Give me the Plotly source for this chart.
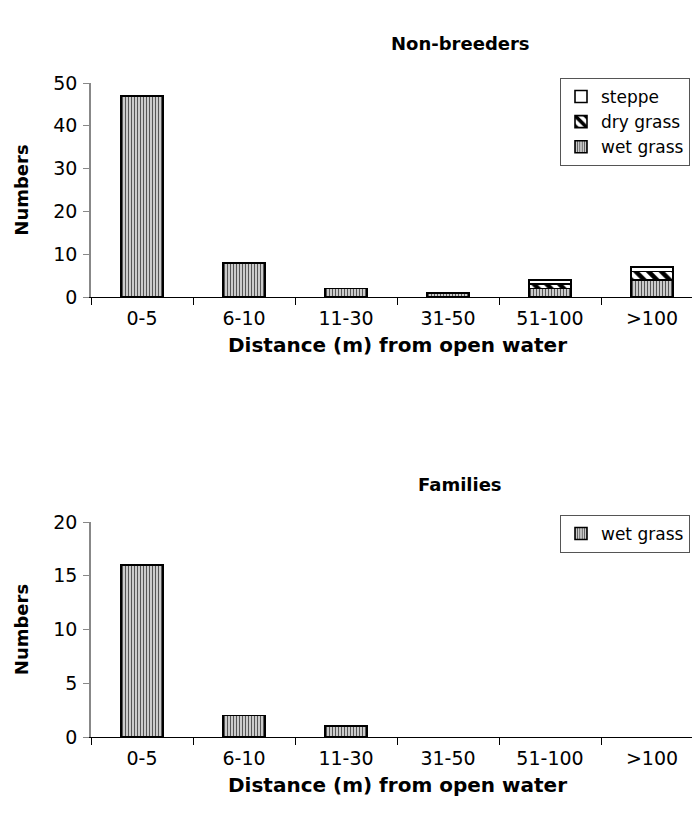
import plotly.graph_objects as go

categories = ["0-5", "6-10", "11-30", "31-50", "51-100", ">100"]
nb_wet = [47, 8, 2, 1, 2, 4]
nb_dry = [0, 0, 0, 0, 1, 2]
nb_steppe = [0, 0, 0, 0, 1, 1]
fam_wet = [16, 2, 1, 0, 0, 0]

W, H = 700, 816
OFF = 8  # page body margin
FONT = "DejaVu Sans, Liberation Sans, Arial, sans-serif"

def px_x(x):
    return (x - OFF) / W

def px_y(y):
    return 1 - (y - OFF) / H

def nz(vals):
    return [v if v > 0 else None for v in vals]

wet_pattern = dict(shape="|", size=3, solidity=0.45, fgcolor="#555555", bgcolor="#e4e4e4", fillmode="replace")
dry_pattern = dict(shape="\\", size=9, solidity=0.5, fgcolor="black", bgcolor="white", fillmode="replace")
bar_line = dict(color="black", width=1.6)

fig = go.Figure()
fig.add_trace(go.Bar(x=categories, y=nz(nb_wet), name="wet grass",
                     marker=dict(color="white", pattern=wet_pattern, line=bar_line),
                     xaxis="x", yaxis="y", legend="legend"))
fig.add_trace(go.Bar(x=categories, y=nz(nb_dry), name="dry grass",
                     marker=dict(color="white", pattern=dry_pattern, line=bar_line),
                     xaxis="x", yaxis="y", legend="legend"))
fig.add_trace(go.Bar(x=categories, y=nz(nb_steppe), name="steppe",
                     marker=dict(color="white", line=bar_line),
                     xaxis="x", yaxis="y", legend="legend"))
fig.add_trace(go.Bar(x=categories, y=nz(fam_wet), name="wet grass",
                     marker=dict(color="white", pattern=wet_pattern, line=bar_line),
                     xaxis="x2", yaxis="y2", legend="legend2"))

xdom = [px_x(91), px_x(703)]
xcommon = dict(type="category", range=[-0.5, 5.5], showline=True, linecolor="black", linewidth=1.2,
               ticks="outside", tickson="boundaries", ticklen=7, tickcolor="black", automargin=False,
               ticklabelstandoff=4,
               tickfont=dict(family=FONT, size=19, color="black"), showgrid=False, zeroline=False)
ycommon = dict(showline=True, linecolor="#888888", linewidth=1.5, ticks="outside", ticklen=6,
               tickcolor="#888888", automargin=False, ticklabelstandoff=2,
               tickfont=dict(family=FONT, size=19, color="black"), showgrid=False, zeroline=False,
               title=dict(text="<b>Numbers</b>", font=dict(family=FONT, size=18, color="black"), standoff=20))

leg_common = dict(xref="paper", yref="paper", xanchor="left", yanchor="top",
                  bgcolor="white", bordercolor="#555555", borderwidth=1,
                  font=dict(family=FONT, size=17, color="black"), itemwidth=30)

XTITLE = "<b>Distance (m) from open water</b>"
title_font = dict(family=FONT, size=18, color="black")
xtitle_font = dict(family=FONT, size=20, color="black")

def label(text, x, y, font):
    return dict(text=text, x=px_x(x), y=px_y(y), xref="paper", yref="paper",
                xanchor="center", yanchor="middle", showarrow=False, font=font)

fig.update_layout(
    width=W, height=H, barmode="stack", bargap=0.59,
    paper_bgcolor="white", plot_bgcolor="white",
    margin=dict(l=0, r=0, t=0, b=0),
    showlegend=True,
    xaxis=dict(domain=xdom, anchor="y", **xcommon),
    yaxis=dict(domain=[px_y(297), px_y(83)], anchor="x", range=[0, 50], dtick=10, **ycommon),
    xaxis2=dict(domain=xdom, anchor="y2", **xcommon),
    yaxis2=dict(domain=[px_y(737), px_y(522)], anchor="x2", range=[0, 20], dtick=5, **ycommon),
    legend=dict(x=px_x(560), y=px_y(78), traceorder="reversed", tracegroupgap=0, **leg_common),
    legend2=dict(x=px_x(560), y=px_y(515), **leg_common),
    annotations=[
        label("<b>Non-breeders</b>", 460, 44, title_font),
        label("<b>Families</b>", 460, 484, title_font),
        label(XTITLE, 397, 345, xtitle_font),
        label(XTITLE, 397, 785, xtitle_font),
    ],
)

fig.write_html("out.html")
